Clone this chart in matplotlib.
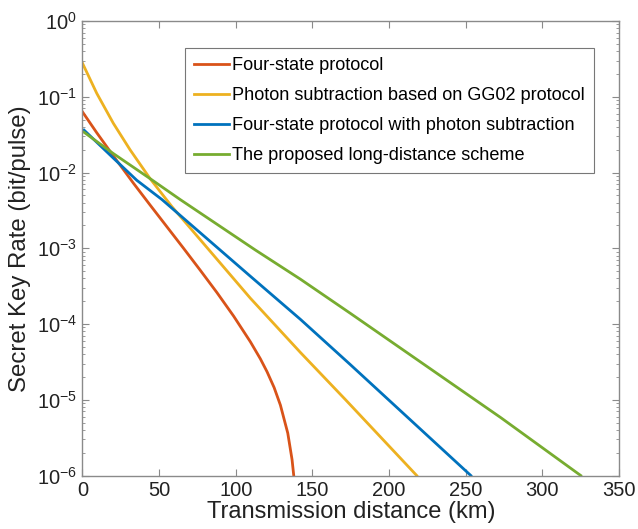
import numpy as np
import matplotlib
import matplotlib.pyplot as plt
from matplotlib.ticker import LogLocator, NullFormatter

matplotlib.use('Agg')
plt.rcParams['font.family'] = ['Liberation Sans', 'DejaVu Sans']
plt.rcParams['axes.unicode_minus'] = False

# Data (distance in km, key rate in bit/pulse)
red_x = [0, 9.3, 20.1, 33.2, 44.1, 65.9, 76.8, 87.7, 98.6, 109.5, 116, 120.4, 125,
         129.1, 133.9, 136.7, 137.8, 138.4]
red_y = [6.31e-2, 3.35e-2, 1.66e-2, 7.24e-3, 3.72e-3, 1.0e-3, 5.13e-4, 2.60e-4, 1.27e-4,
         5.83e-5, 3.48e-5, 2.34e-5, 1.45e-5, 8.5e-6, 3.63e-6, 1.62e-6, 1.0e-6, 3.0e-7]

yel_x = [0, 9.3, 20.1, 31, 44.1, 58.3, 109.5, 142.2, 171.6, 218]
yel_y = [0.277, 0.111, 0.0447, 0.020, 8.3e-3, 3.55e-3, 2.19e-4, 4.2e-5, 1.0e-5, 1.0e-6]

blu_x = [1, 20.1, 35.4, 51.8, 109.5, 142.2, 174.8, 253.3]
blu_y = [0.0363, 0.0155, 7.9e-3, 4.4e-3, 4.27e-4, 1.15e-4, 2.9e-5, 1.0e-6]

grn_x = [1, 20.1, 44.1, 63.7, 112.7, 142.2, 174.8, 272.9, 325]
grn_y = [0.034, 0.0178, 8.3e-3, 4.4e-3, 9.5e-4, 3.9e-4, 1.38e-4, 5.8e-6, 1.0e-6]

labels = ['Four-state protocol',
          'Photon subtraction based on GG02 protocol',
          'Four-state protocol with photon subtraction',
          'The proposed long-distance scheme']
colors = ['#D95319', '#EDB120', '#0072BD', '#77AC30']

fig = plt.figure(figsize=(6.38, 5.29), dpi=100)
ax = fig.add_axes([0.1293, 0.1011, 0.8410, 0.8592])

series = [(red_x, red_y), (yel_x, yel_y), (blu_x, blu_y), (grn_x, grn_y)]
for (xs, ys), c, lab in zip(series, colors, labels):
    ax.plot(xs, ys, color=c, linewidth=2, label=lab)

ax.set_yscale('log')
ax.set_xlim(0, 350)
ax.set_ylim(1e-6, 1e0)
ax.set_xticks([0, 50, 100, 150, 200, 250, 300, 350])
ax.yaxis.set_major_locator(LogLocator(base=10, numticks=10))
ax.yaxis.set_minor_locator(LogLocator(base=10, subs=np.arange(2, 10), numticks=10))
ax.yaxis.set_minor_formatter(NullFormatter())

axis_gray = '#8a8a8a'
for sp in ax.spines.values():
    sp.set_color(axis_gray)
    sp.set_linewidth(1.0)
ax.tick_params(which='both', direction='in', top=True, right=True, color=axis_gray,
               labelcolor='#222222', labelsize=14.5, pad=4)
ax.tick_params(which='major', length=5, width=0.8)
ax.tick_params(which='minor', length=2.5, width=0.6)

ax.set_xlabel('Transmission distance (km)', fontsize=17, color='#222222', labelpad=1)
ax.set_ylabel('Secret Key Rate (bit/pulse)', fontsize=17.3, color='#222222', labelpad=4)

leg = ax.legend(loc='upper left', bbox_to_anchor=(0.191, 0.9406), fontsize=13.1,
                frameon=True, fancybox=False, edgecolor='#555555', handlelength=1.9,
                handletextpad=0.2, labelspacing=0.72, borderpad=0.5, borderaxespad=0)
leg.get_frame().set_linewidth(0.8)

plt.savefig('out.png', dpi=100)
plt.close()
